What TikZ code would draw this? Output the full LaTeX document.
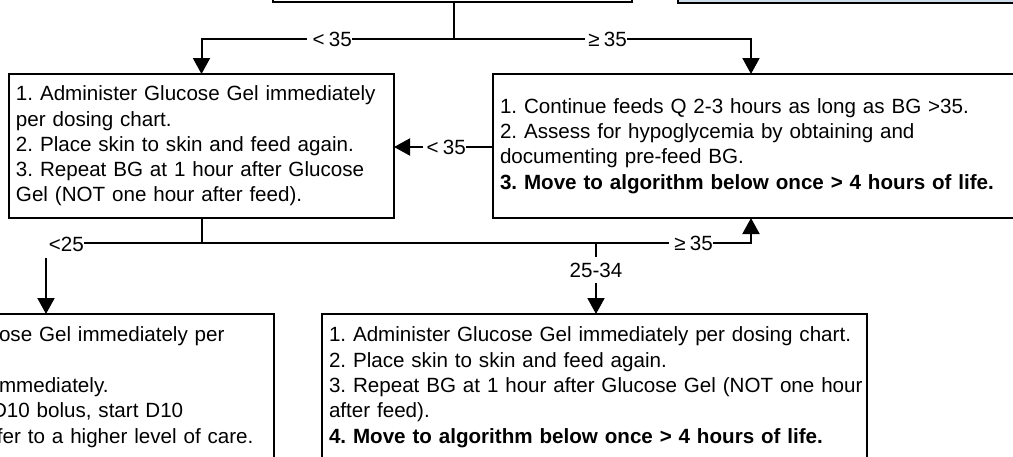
\documentclass[tikz,border=0pt]{standalone}
\usepackage{fontspec}
\setmainfont[WordSpace=0.72]{Liberation Sans}
\usetikzlibrary{arrows.meta}
\definecolor{topblue}{RGB}{205,220,235}
\frenchspacing
\begin{document}
\begin{tikzpicture}[x=1pt,y=-1pt,
  txtfont/.style={font=\fontsize{20.6}{25.3}\selectfont\frenchspacing},
  box/.style={draw=black, line width=2pt, fill=white, inner xsep=7pt, outer sep=0pt,
    anchor=north west, align=left, txtfont},
  topbox/.style={draw=black, line width=2pt, outer sep=0pt, anchor=south west},
  conn/.style={line width=2pt},
  arr/.style={line width=2pt, -{Triangle[length=16pt,width=17pt]}},
  lbl/.style={fill=white, inner xsep=0pt, inner ysep=1pt, txtfont}
]
\useasboundingbox (0,0) rectangle (1013,456);

% top boxes (cut off)
\node[topbox, fill=white, minimum width=359pt, minimum height=60pt] (top1) at (273,2) {};
\node[topbox, fill=topblue, minimum width=362pt, minimum height=60pt] (top2) at (678,2.5) {};

% boxes
\node[box, text width=371pt, minimum height=144pt] (A) at (9,74)
  {\mbox{1. Administer Glucose Gel immediately}\\
   \mbox{per dosing chart.}\\
   \mbox{2. Place skin to skin and feed again.}\\
   \mbox{3. Repeat BG at 1 hour after Glucose}\\
   \mbox{Gel (NOT one hour after feed).}};

\node[box, text width=533pt, minimum height=144pt] (B) at (493,74)
  {\mbox{1. Continue feeds Q 2-3 hours as long as BG >35.}\\
   \mbox{2. Assess for hypoglycemia by obtaining and}\\
   \mbox{documenting pre-feed BG.}\\
   \mbox{\textbf{3. Move to algorithm below once > 4 hours of life.}}};

\node[box, text width=268pt, inner ysep=13pt] (C) at (-8,314)
  {\mbox{ose Gel immediately per}\\
   \mbox{}\\
   \mbox{mmediately.}\\
   \mbox{\hspace*{-7pt}D10 bolus, start D10}\\
   \mbox{\hspace*{-2pt}fer to a higher level of care.}\\
   \mbox{}};

\node[box, text width=531pt, inner ysep=13pt] (D) at (322,314)
  {\mbox{1. Administer Glucose Gel immediately per dosing chart.}\\
   \mbox{2. Place skin to skin and feed again.}\\
   \mbox{3. Repeat BG at 1 hour after Glucose Gel (NOT one hour}\\
   \mbox{after feed).}\\
   \mbox{\textbf{4. Move to algorithm below once > 4 hours of life.}}\\
   \mbox{}};

% junction coordinates
\coordinate (j1) at (454,39);
\coordinate (bx) at (751,0);
\coordinate (j2) at (201.5,243);
\coordinate (cx) at (46,0);
\coordinate (j3) at (596,243);

% connectors
\draw[conn] (top1.south -| j1) -- (j1);
\draw[arr] (j1) -| (A.north);
\draw[arr] (j1) -| (B.north west -| bx);
\draw[arr] (B.west |- 0,147) -- (A.east |- 0,147);
\draw[conn] (A.south) -- (j2);
\draw[arr] (j2) -| (C.north west -| cx);
\draw[arr] (j2) -| (B.south west -| bx);
\draw[arr] (j3) -- (D.north -| j3);

% labels
\node[lbl, anchor=east] (l1) at (352,39) {\hspace*{6pt}< 35};
\node[lbl, anchor=east] (l2) at (627,39) {\hspace*{3pt}≥ 35};
\node[lbl, anchor=east] (l3) at (466,147) {\hspace*{4pt}< 35};
\node[lbl, anchor=east, inner ysep=7pt] (l4) at (84,244) {\hspace*{5pt}<25};
\node[lbl, anchor=east] (l5) at (713,243) {\hspace*{5pt}≥ 35};
\node[lbl, inner xsep=2pt, inner ysep=6pt] (l6) at (596,270) {25-34};
\end{tikzpicture}
\end{document}
